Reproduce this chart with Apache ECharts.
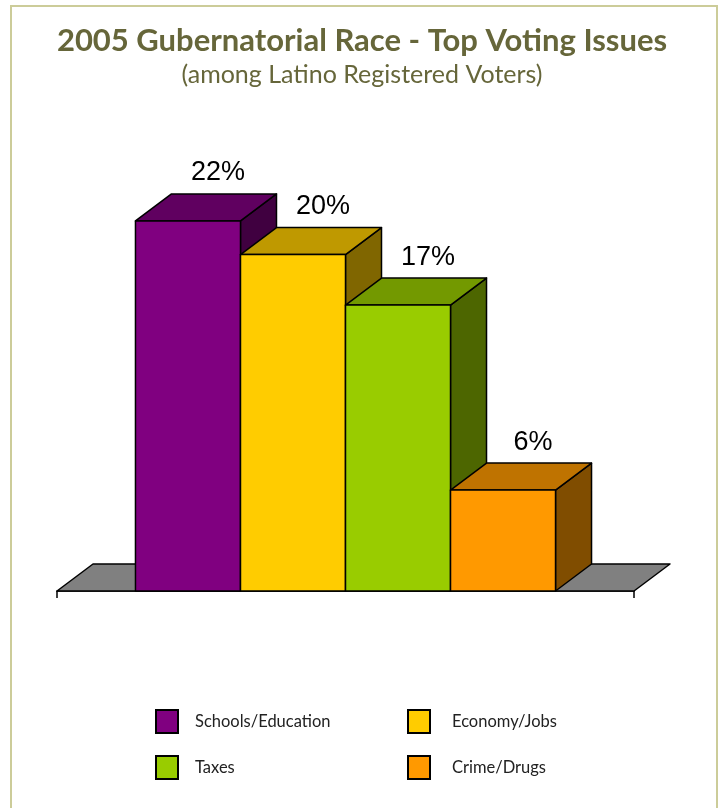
<!DOCTYPE html>
<html>
<head>
<meta charset="utf-8">
<script src="https://cdn.jsdelivr.net/npm/echarts@6/dist/echarts.min.js"></script>
<style>
  html, body { margin: 0; padding: 0; background: #ffffff; }
  #chart { width: 724px; height: 808px; }
</style>
</head>
<body>
<div id="chart"></div>
<script>
// Top voting issues, 2005 gubernatorial race (Latino registered voters)
const issues = ['Schools/Education', 'Economy/Jobs', 'Taxes', 'Crime/Drugs'];
const shares = [22, 20, 17, 6];
const legendLeftColumn = ['Schools/Education', 'Taxes'];
const legendRightColumn = ['Economy/Jobs', 'Crime/Drugs'];

// Face / top / side shading for each box
const faceColors = ['#800080', '#FFCC00', '#99CC00', '#FF9900'];
const topColors = ['#600060', '#BF9900', '#739900', '#BF7300'];
const sideColors = ['#400040', '#806600', '#4D6600', '#804D00'];

// Oblique projection of the depth axis
const DEPTH_X = 36;
const DEPTH_Y = -27;
// Share of the category band covered by the row of boxes
const GROUP_SHARE = 0.728;
const EDGE = { stroke: '#000000', lineWidth: 1.5, lineJoin: 'round' };

function boxRenderer(idx) {
  return function (params, api) {
    const value = api.value(1);
    const base = api.coord([api.value(0), 0]);
    const top = api.coord([api.value(0), value]);
    const band = api.size([1, 0])[0];
    const w = band * GROUP_SHARE / issues.length;
    const x0 = base[0] - band * GROUP_SHARE / 2 + idx * w;
    const x1 = x0 + w;
    const yb = base[1];
    const yt = top[1];
    const dx = DEPTH_X, dy = DEPTH_Y;
    return {
      type: 'group',
      children: [
        {
          type: 'polygon',
          shape: { points: [[x1, yb], [x1, yt], [x1 + dx, yt + dy], [x1 + dx, yb + dy]] },
          style: Object.assign({ fill: sideColors[idx] }, EDGE)
        },
        {
          type: 'polygon',
          shape: { points: [[x0, yt], [x1, yt], [x1 + dx, yt + dy], [x0 + dx, yt + dy]] },
          style: Object.assign({ fill: topColors[idx] }, EDGE)
        },
        {
          type: 'rect',
          shape: { x: x0, y: yt, width: w, height: yb - yt },
          style: Object.assign({ fill: faceColors[idx] }, EDGE)
        },
        {
          type: 'text',
          x: (x0 + x1) / 2 + 30,
          y: yt + dy - 21,
          style: {
            text: value + '%',
            fill: '#000000',
            font: '27px "Liberation Sans", Arial, sans-serif',
            align: 'center',
            verticalAlign: 'middle'
          }
        }
      ]
    };
  };
}

function floorRenderer(params, api) {
  const base = api.coord([api.value(0), 0]);
  const band = api.size([1, 0])[0];
  const xl = base[0] - band / 2;
  const xr = base[0] + band / 2;
  const y = base[1];
  return {
    type: 'polygon',
    shape: { points: [[xl, y], [xr, y], [xr + DEPTH_X, y + DEPTH_Y], [xl + DEPTH_X, y + DEPTH_Y]] },
    style: { fill: '#808080', stroke: '#000000', lineWidth: 1.5, lineJoin: 'round' }
  };
}

const series = [{
  type: 'custom',
  name: 'floor',
  z: 1,
  silent: true,
  renderItem: floorRenderer,
  data: [[0, 0]]
}];
issues.forEach(function (name, i) {
  series.push({
    type: 'custom',
    name: name,
    z: 2 + i,
    silent: true,
    itemStyle: { color: faceColors[i] },
    renderItem: boxRenderer(i),
    data: [[0, shares[i]]]
  });
});

function legendColumn(left, names, textGap) {
  return {
    orient: 'vertical',
    left: left,
    top: 709,
    padding: 0,
    icon: 'rect',
    itemWidth: 22,
    itemHeight: 23,
    itemGap: 21,
    selectedMode: false,
    data: names,
    itemStyle: { borderColor: '#000000', borderWidth: 2 },
    textStyle: {
      fontFamily: 'Lato, "Open Sans", sans-serif',
      fontSize: 16.5,
      color: '#222222',
      padding: [0, 0, 0, textGap]
    }
  };
}

const option = {
  animation: false,
  backgroundColor: '#ffffff',
  title: [
    {
      text: '2005 Gubernatorial Race - Top Voting Issues',
      left: 'center',
      top: 20,
      textStyle: { fontFamily: 'Lato, sans-serif', fontWeight: 'bold', fontSize: 31, color: '#66663A' }
    },
    {
      text: '(among Latino Registered Voters)',
      left: 'center',
      top: 57,
      textStyle: { fontFamily: 'Lato, sans-serif', fontWeight: 'normal', fontSize: 25, color: '#66663A' }
    }
  ],
  legend: [
    legendColumn(155, legendLeftColumn, 12),
    legendColumn(407, legendRightColumn, 17)
  ],
  grid: { left: 57, right: 90, top: 170.5, bottom: 217 },
  xAxis: {
    type: 'category',
    data: [''],
    boundaryGap: true,
    axisLine: { show: true, lineStyle: { color: '#000000', width: 1.5 } },
    axisTick: { show: true, length: 7, lineStyle: { color: '#000000', width: 1.5 } },
    axisLabel: { show: false },
    splitLine: { show: false }
  },
  yAxis: {
    type: 'value',
    min: 0,
    max: 25,
    show: false
  },
  graphic: [{
    type: 'rect',
    z: -1,
    silent: true,
    shape: { x: 11, y: 6, width: 706, height: 812 },
    style: { fill: 'none', stroke: '#CCCC99', lineWidth: 2 }
  }],
  series: series
};

const chart = echarts.init(document.getElementById('chart'), null, { renderer: 'canvas' });
chart.setOption(option);
</script>
</body>
</html>
